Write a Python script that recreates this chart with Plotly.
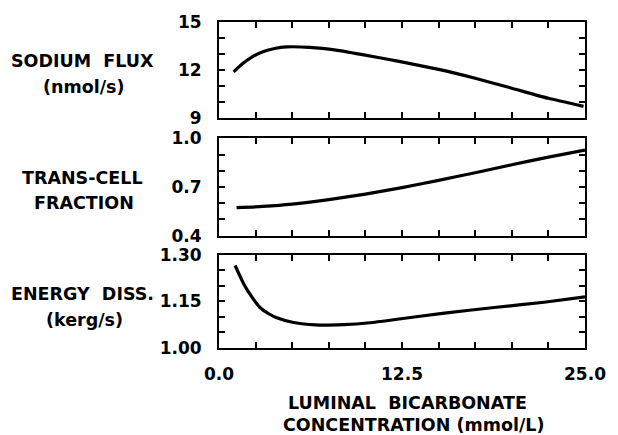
import plotly.graph_objects as go

# Sodium flux (nmol/s)
flux_x = [1.0, 1.6, 2.3, 3.0, 3.8, 4.6, 6.2, 8.0, 9.8, 12.3, 15.0, 17.5, 20.0, 22.5, 24.9]
flux_y = [11.9, 12.4, 12.85, 13.15, 13.35, 13.45, 13.42, 13.25, 12.97, 12.55, 12.05, 11.5, 10.88, 10.25, 9.75]

# Trans-cell fraction
frac_x = [1.2, 3.0, 5.0, 7.5, 10.0, 12.5, 15.0, 17.5, 20.0, 22.5, 25.0]
frac_y = [0.573, 0.58, 0.594, 0.622, 0.656, 0.696, 0.741, 0.788, 0.837, 0.884, 0.927]

# Energy dissipation (kerg/s)
en_x = [1.1, 1.7, 2.3, 2.8, 3.4, 3.9, 5.1, 6.6, 8.5, 10.3, 12.3, 15.4, 18.8, 22.2, 25.0]
en_y = [1.265, 1.205, 1.16, 1.13, 1.11, 1.098, 1.082, 1.074, 1.075, 1.081, 1.093, 1.112, 1.13, 1.147, 1.164]

x_tickvals = [0, 2.5, 5, 7.5, 10, 12.5, 15, 17.5, 20, 22.5, 25]
x_ticktext = ["0.0", "", "", "", "", "12.5", "", "", "", "", "25.0"]

y1_tickvals = [9, 10, 11, 12, 13, 14, 15]
y1_ticktext = ["9", "", "", "12", "", "", "15"]
y2_tickvals = [0.4, 0.5, 0.6, 0.7, 0.8, 0.9, 1.0]
y2_ticktext = ["0.4", "", "", "0.7", "", "", "1.0"]
y3_tickvals = [1.00, 1.05, 1.10, 1.15, 1.20, 1.25, 1.30]
y3_ticktext = ["1.00", "", "", "1.15", "", "", "1.30"]

panel_labels = [["SODIUM  FLUX", "(nmol/s)"], ["TRANS-CELL", "FRACTION"], ["ENERGY  DISS.", "(kerg/s)"]]
x_title = ["LUMINAL  BICARBONATE", "CONCENTRATION (mmol/L)"]

W, H = 618, 435
ML, MR, MT, MB = 219, 32, 20, 87
PH = H - MT - MB
PW = W - ML - MR

def yfrac(py):
    return (H - MB - py) / PH

def xfrac(px):
    return (px - ML) / PW

fig = go.Figure()
FONT = dict(family="DejaVu Sans", size=17, color="black", weight="bold")
LFONT = dict(family="DejaVu Sans", size=17.5, color="black", weight="bold")

series = [(flux_x, flux_y), (frac_x, frac_y), (en_x, en_y)]
for i, (sx, sy) in enumerate(series):
    fig.add_trace(go.Scatter(x=sx, y=sy, mode="lines", line=dict(color="black", width=3.2, shape="spline", smoothing=0.5),
                             xaxis="x" if i == 0 else f"x{i+1}", yaxis="y" if i == 0 else f"y{i+1}", showlegend=False))

domains = [[yfrac(117), yfrac(20)], [yfrac(235), yfrac(137)], [yfrac(348), yfrac(254)]]
yt = [(y1_tickvals, y1_ticktext, [9, 15]), (y2_tickvals, y2_ticktext, [0.4, 1.0]), (y3_tickvals, y3_ticktext, [1.0, 1.3])]

axis_common = dict(showline=True, linecolor="black", linewidth=2, mirror="ticks", ticks="inside",
                   ticklen=6, tickwidth=2, tickcolor="black", showgrid=False, zeroline=False,
                   tickfont=FONT)
layout = {}
for i in range(3):
    xn = "xaxis" if i == 0 else f"xaxis{i+1}"
    yn = "yaxis" if i == 0 else f"yaxis{i+1}"
    anchor_y = "y" if i == 0 else f"y{i+1}"
    anchor_x = "x" if i == 0 else f"x{i+1}"
    layout[xn] = dict(axis_common, domain=[0, 1], range=[0, 25], tickvals=x_tickvals,
                      ticktext=x_ticktext if i == 2 else [""] * len(x_tickvals), anchor=anchor_y,
                      ticklabelstandoff=10)
    tv, tt, rg = yt[i]
    layout[yn] = dict(axis_common, domain=domains[i], range=rg, tickvals=tv, ticktext=tt, anchor=anchor_x,
                      ticklabelstandoff=12)
fig.update_layout(**layout)

label_pos = [(59, 85), (177, 202), (294, 320)]
annotations = []
for (l1, l2), (py1, py2) in zip(panel_labels, label_pos):
    annotations.append(dict(text=l1, x=xfrac(82), y=yfrac(py1), xref="paper", yref="paper",
                            showarrow=False, font=LFONT, xanchor="center", yanchor="middle"))
    annotations.append(dict(text=l2, x=xfrac(84), y=yfrac(py2), xref="paper", yref="paper",
                            showarrow=False, font=LFONT, xanchor="center", yanchor="middle"))
annotations.append(dict(text=x_title[0], x=xfrac(408), y=yfrac(403), xref="paper", yref="paper",
                        showarrow=False, font=LFONT, xanchor="center", yanchor="middle"))
annotations.append(dict(text=x_title[1], x=xfrac(415), y=yfrac(425), xref="paper", yref="paper",
                        showarrow=False, font=LFONT, xanchor="center", yanchor="middle"))

fig.update_layout(width=W, height=H, margin=dict(l=ML, r=MR, t=MT, b=MB), paper_bgcolor="white",
                  plot_bgcolor="white", annotations=annotations, font=FONT)

fig.write_html("out.html")
